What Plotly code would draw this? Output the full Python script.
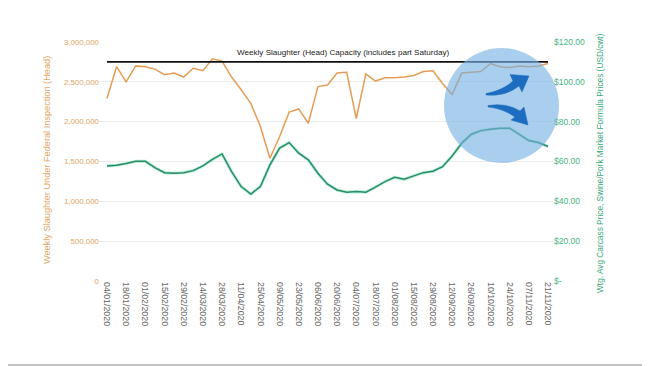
import plotly.graph_objects as go

weeks = ["2020-01-04","2020-01-11","2020-01-18","2020-01-25","2020-02-01","2020-02-08","2020-02-15","2020-02-22",
         "2020-02-29","2020-03-07","2020-03-14","2020-03-21","2020-03-28","2020-04-04","2020-04-11","2020-04-18",
         "2020-04-25","2020-05-02","2020-05-09","2020-05-16","2020-05-23","2020-05-30","2020-06-06","2020-06-13",
         "2020-06-20","2020-06-27","2020-07-04","2020-07-11","2020-07-18","2020-07-25","2020-08-01","2020-08-08",
         "2020-08-15","2020-08-22","2020-08-29","2020-09-05","2020-09-12","2020-09-19","2020-09-26","2020-10-03",
         "2020-10-10","2020-10-17","2020-10-24","2020-10-31","2020-11-07","2020-11-14","2020-11-21"]

slaughter = [2290000, 2690000, 2500000, 2700000, 2690000, 2660000, 2590000, 2610000, 2560000, 2670000,
             2640000, 2790000, 2760000, 2560000, 2400000, 2230000, 1940000, 1540000, 1810000, 2120000,
             2160000, 1980000, 2440000, 2460000, 2610000, 2620000, 2040000, 2600000, 2510000, 2550000,
             2550000, 2560000, 2580000, 2630000, 2640000, 2480000, 2340000, 2610000, 2620000, 2630000,
             2730000, 2690000, 2680000, 2700000, 2690000, 2700000, 2730000]

price = [57.8, 58.1, 59.0, 60.1, 60.1, 56.9, 54.4, 54.1, 54.4, 55.4,
         57.8, 61.1, 63.8, 54.9, 47.4, 43.6, 47.4, 58.3, 66.7, 69.5,
         64.2, 60.8, 54.1, 48.6, 45.7, 44.6, 44.9, 44.6, 47.1, 49.9,
         52.1, 51.1, 52.8, 54.4, 55.1, 57.4, 62.8, 69.2, 73.7, 75.5,
         76.2, 76.7, 76.7, 73.7, 70.5, 69.5, 67.5]

capacity = 2750000
capacity_label = "Weekly Slaughter (Head) Capacity (includes part Saturday)"

tick_dates = weeks[::2]
tick_labels = ["04/01/2020","18/01/2020","01/02/2020","15/02/2020","29/02/2020","14/03/2020","28/03/2020",
               "11/04/2020","25/04/2020","09/05/2020","23/05/2020","06/06/2020","20/06/2020","04/07/2020",
               "18/07/2020","01/08/2020","15/08/2020","29/08/2020","12/09/2020","26/09/2020","10/10/2020",
               "24/10/2020","07/11/2020","21/11/2020"]

left_vals = [0, 500000, 1000000, 1500000, 2000000, 2500000, 3000000]
left_text = ["0", "500,000", "1,000,000", "1,500,000", "2,000,000", "2,500,000", "3,000,000"]
right_vals = [0, 20, 40, 60, 80, 100, 120]
right_text = ["$-", "$20.00", "$40.00", "$60.00", "$80.00", "$100.00", "$120.00"]

# page offset (body margin) compensation
OFF = 8
W, H = 650, 366
L, R, T, B = 100 - OFF, 650 - (553 - OFF), 42 - OFF, 366 - (281 - OFF)
PW, PH = W - L - R, H - T - B

def px(x, y):
    return (x - OFF - L) / PW, (H - B - (y - OFF)) / PH

def path(points):
    parts = []
    for cmd, *pts in points:
        s = cmd
        for (x, y) in pts:
            a, b = px(x, y)
            s += f" {a:.4f},{b:.4f}"
        parts.append(s)
    return " ".join(parts) + " Z"

ORANGE = "#e79c55"
GREEN = "#2b8a68"

fig = go.Figure()
fig.add_trace(go.Scatter(x=weeks, y=slaughter, mode="lines", line=dict(color=ORANGE, width=1.5),
                         name="Slaughter", yaxis="y"))
fig.add_trace(go.Scatter(x=[weeks[0], weeks[-1]], y=[capacity, capacity], mode="lines",
                         line=dict(color="#111111", width=1.6), name="Capacity", yaxis="y"))
fig.add_trace(go.Scatter(x=weeks, y=price, mode="lines", line=dict(color="#b8f0d8", width=3.2),
                         yaxis="y2", hoverinfo="skip", showlegend=False))
fig.add_trace(go.Scatter(x=weeks, y=price, mode="lines", line=dict(color=GREEN, width=1.5),
                         name="Price", yaxis="y2"))

shapes = []
cx0, cy0 = px(444, 48)
cx1, cy1 = px(559, 163)
shapes.append(dict(type="circle", xref="paper", yref="paper", x0=cx0, y0=cy1, x1=cx1, y1=cy0,
                   fillcolor="rgba(118,176,226,0.62)", line=dict(width=0), layer="above"))
arrow1 = path([("M", (486, 93.5)), ("Q", (503, 90.5), (513, 81)), ("L", (510, 74.5)), ("L", (529, 76)),
               ("L", (522, 92)), ("L", (519, 86)), ("Q", (505, 97), (486, 95))])
arrow2 = path([("M", (488, 105.5)), ("Q", (507, 102.5), (520, 111)), ("L", (524, 107)), ("L", (528, 125)),
               ("L", (511, 120)), ("L", (515, 117)), ("Q", (503, 108.5), (488, 107))])
for a in (arrow1, arrow2):
    shapes.append(dict(type="path", xref="paper", yref="paper", path=a, fillcolor="#1c6cc0",
                       line=dict(color="#1c6cc0", width=0.5), layer="above"))
shapes.append(dict(type="line", xref="paper", yref="paper", x0=px(0, 365)[0], x1=px(650, 365)[0],
                   y0=px(0, 365)[1], y1=px(0, 365)[1], line=dict(color="#b0b0b0", width=1.5)))

annotations = [
    dict(text=capacity_label, xref="paper", yref="paper", x=px(343, 52)[0], y=px(343, 52)[1],
         xanchor="center", yanchor="middle",
         showarrow=False, font=dict(size=8.1, color="#222222", family="Arial")),
    dict(text="Weekly Slaughter Under Federal Inspection (Head)", xref="paper", yref="paper",
         x=px(47, 160)[0], y=px(47, 160)[1], textangle=-90, showarrow=False,
         xanchor="center", yanchor="middle",
         font=dict(size=9.2, color="#e2a464", family="Arial")),
    dict(text="Wtg. Avg Carcass Price, Swine/Pork Market Formula Prices (USD/cwt)", xref="paper", yref="paper",
         x=px(600, 163)[0], y=px(600, 163)[1], textangle=-90, showarrow=False,
         xanchor="center", yanchor="middle",
         font=dict(size=8.3, color="#35a878", family="Arial")),
]

fig.update_layout(
    width=W, height=H,
    margin=dict(l=L, r=R, t=T, b=B),
    paper_bgcolor="white", plot_bgcolor="white",
    showlegend=False,
    font=dict(family="Arial", size=7),
    xaxis=dict(type="date", range=["2019-12-29T22:00", "2020-11-24T15:00"],
               tickvals=tick_dates, ticktext=tick_labels, tickangle=90,
               tickfont=dict(size=8.8, color="#666666"), showgrid=False, zeroline=False,
               showline=False, ticks=""),
    yaxis=dict(range=[0, 3000000], tickvals=left_vals, ticktext=left_text,
               tickfont=dict(size=7.9, color="#e2a464"), gridcolor="#ececec", gridwidth=1,
               zeroline=False, showline=False, ticks=""),
    yaxis2=dict(range=[0, 120], tickvals=right_vals, ticktext=right_text, overlaying="y", side="right",
                tickfont=dict(size=8.5, color="#45b585"), showgrid=False, zeroline=False,
                showline=False, ticks=""),
    shapes=shapes,
    annotations=annotations,
)

fig.write_html("out.html")
